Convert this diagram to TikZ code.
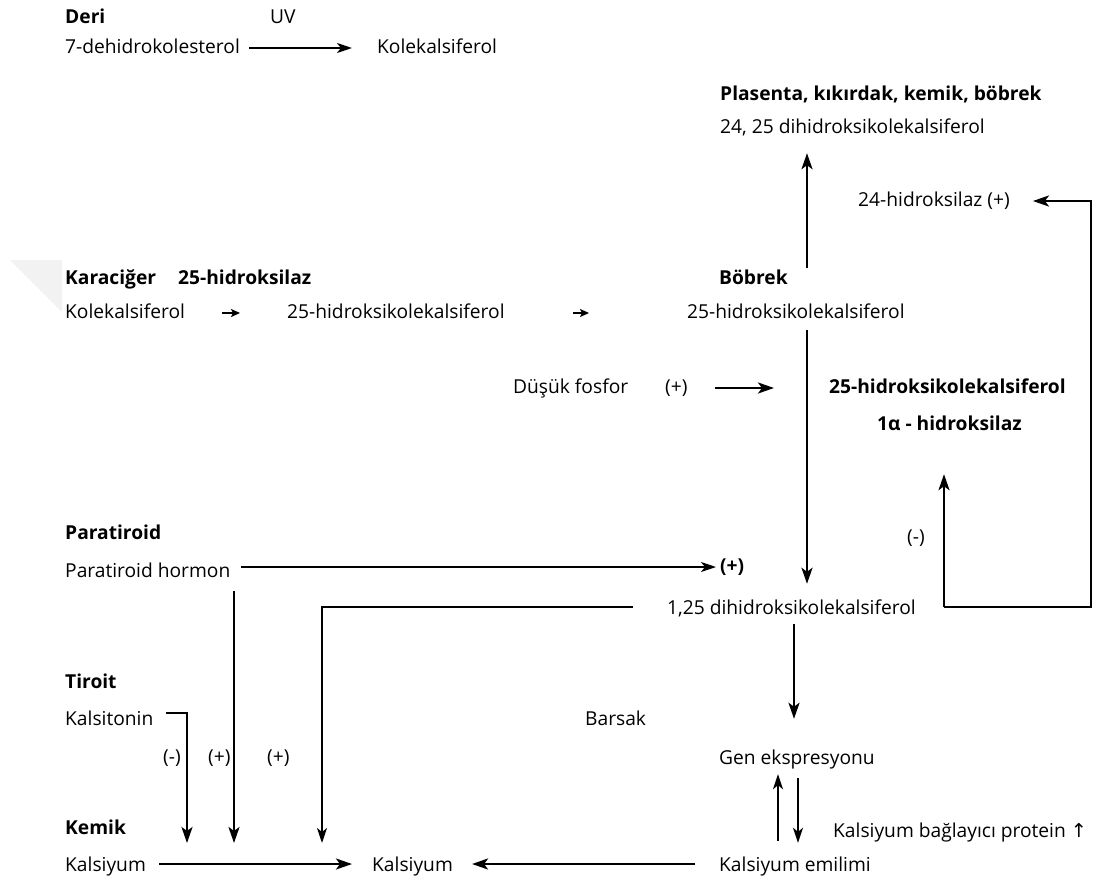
\documentclass[tikz,border=0pt]{standalone}
\usepackage{fontspec}
\setmainfont{Open Sans}
\newfontfamily\symf{DejaVu Sans}
\usetikzlibrary{arrows.meta}
\tikzset{
  txt/.style={anchor=west,inner sep=0pt,text height=14pt,text depth=4pt,font=\fontsize{19.2}{21}\selectfont},
  btxt/.style={txt,font=\fontsize{19.2}{21}\selectfont\bfseries},
  arr/.style={line width=2.4pt,-{Stealth[length=16pt,width=11pt,inset=4pt]}},
  sarr/.style={line width=1.7pt,-{Stealth[length=9pt,width=8pt,inset=2pt]}},
  narr/.style={line width=2pt,-{Stealth[length=15pt,width=10pt,inset=4pt]}}
}
\begin{document}
\begin{tikzpicture}[x=1pt,y=-1pt]
\useasboundingbox (0,0) rectangle (1093,881);
\fill[gray!10] (10,260) -- (62,260) -- (62,312) -- cycle;
% texts
\node[btxt] (deri) at (65,18) {Deri};
\node[txt] (uv) at (270,18) {UV};
\node[txt] (dhc) at (65,48) {7-dehidrokolesterol};
\node[txt] (kol1) at (377,48) {Kolekalsiferol};
\node[btxt] (pla) at (720,95) {Plasenta, kıkırdak, kemik, böbrek};
\node[txt] (d2425) at (720,128) {24, 25 dihidroksikolekalsiferol};
\node[txt] (h24) at (858,201) {24-hidroksilaz (+)};
\node[btxt] (kar) at (65,279) {Karaciğer};
\node[btxt] (h25l) at (178,279) {25-hidroksilaz};
\node[btxt] (bob) at (719,279) {Böbrek};
\node[txt] (kol2) at (65,313) {Kolekalsiferol};
\node[txt] (h25a) at (287,313) {25-hidroksikolekalsiferol};
\node[txt] (h25b) at (687,313) {25-hidroksikolekalsiferol};
\node[txt] (dusuk) at (513,388) {Düşük fosfor};
\node[txt] (dplus) at (665,388) {(+)};
\node[btxt] (h25c) at (829,388) {25-hidroksikolekalsiferol};
\node[btxt] (alpha) at (877,425) {1α - hidroksilaz};
\node[txt] (minus) at (907,538) {(-)};
\node[btxt] (para) at (65,534) {Paratiroid};
\node[txt] (pth) at (65,572) {Paratiroid hormon};
\node[btxt] (pplus) at (720,567) {(+)};
\node[txt] (d125) at (667,609) {1,25 dihidroksikolekalsiferol};
\node[btxt] (tiroit) at (65,683) {Tiroit};
\node[txt] (kalsit) at (65,720) {Kalsitonin};
\node[txt] (m1) at (163,758) {(-)};
\node[txt] (p1) at (208,758) {(+)};
\node[txt] (p2) at (267,758) {(+)};
\node[txt] (barsak) at (585,720) {Barsak};
\node[txt] (gen) at (719,759) {Gen ekspresyonu};
\node[txt] (kbp) at (833,832) {Kalsiyum bağlayıcı protein {\symf ↑}};
\node[btxt] (kemik) at (65,829) {Kemik};
\node[txt] (kal1) at (65,866) {Kalsiyum};
\node[txt] (kal2) at (372,866) {Kalsiyum};
\node[txt] (emil) at (719,866) {Kalsiyum emilimi};
% helper coordinates
\coordinate (vx) at (807,0);
\coordinate (gx) at (794,0);
\coordinate (ux) at (778,0);
\coordinate (dx) at (798,0);
\coordinate (pdx) at (234,843);
\coordinate (kdx) at (187,843);
\coordinate (ldx) at (322,843);
\coordinate (rc) at (1091,201);
\coordinate (rs) at (944,607);
% connectors
\draw[narr,shorten <=9pt,shorten >=25pt] (dhc) -- (kol1);
\draw[sarr,shorten <=37pt,shorten >=47pt] (kol2) -- (h25a);
\draw[sarr,shorten <=68pt,shorten >=98pt] (h25a) -- (h25b);
\draw[arr,shorten <=2pt,shorten >=16pt] (bob.north -| vx) -- (d2425.south -| vx);
\draw[arr,line width=2.7pt,shorten <=8pt,shorten >=16pt] (h25b.south -| vx) -- (d125.north -| vx);
\draw[arr,shorten <=27pt,shorten >=55pt] (dplus) -- (h25c);
\draw[narr,shorten >=4pt] ([xshift=10pt]pth.east |- pplus) -- (pplus.west);
\draw[arr,shorten <=10pt] (pth.south -| pdx) -- (pdx);
\draw[arr] ([xshift=12pt,yshift=7pt]kalsit.east) -| (kdx);
\draw[narr] ([xshift=-34pt,yshift=2pt]d125.west) -| (ldx);
\draw[arr,shorten >=23pt] (rs) -| (rc) -- (h24.east);
\draw[arr,shorten >=40pt] (rs) -- (rs |- alpha.south);
\draw[arr,shorten <=6pt,shorten >=31pt] (d125.south -| gx) -- (gen.north -| gx);
\draw[narr,shorten <=16pt,shorten >=6pt] (emil.north -| ux) -- (gen.south -| ux);
\draw[narr,shorten <=10pt,shorten >=14pt] (gen.south -| dx) -- (emil.north -| dx);
\draw[arr,shorten <=24pt,shorten >=19pt] ([yshift=2pt]emil.west) -- ([yshift=2pt]kal2.east);
\draw[arr,shorten <=13pt,shorten >=20pt] ([yshift=2pt]kal1.east) -- ([yshift=2pt]kal2.west);
\end{tikzpicture}
\end{document}
